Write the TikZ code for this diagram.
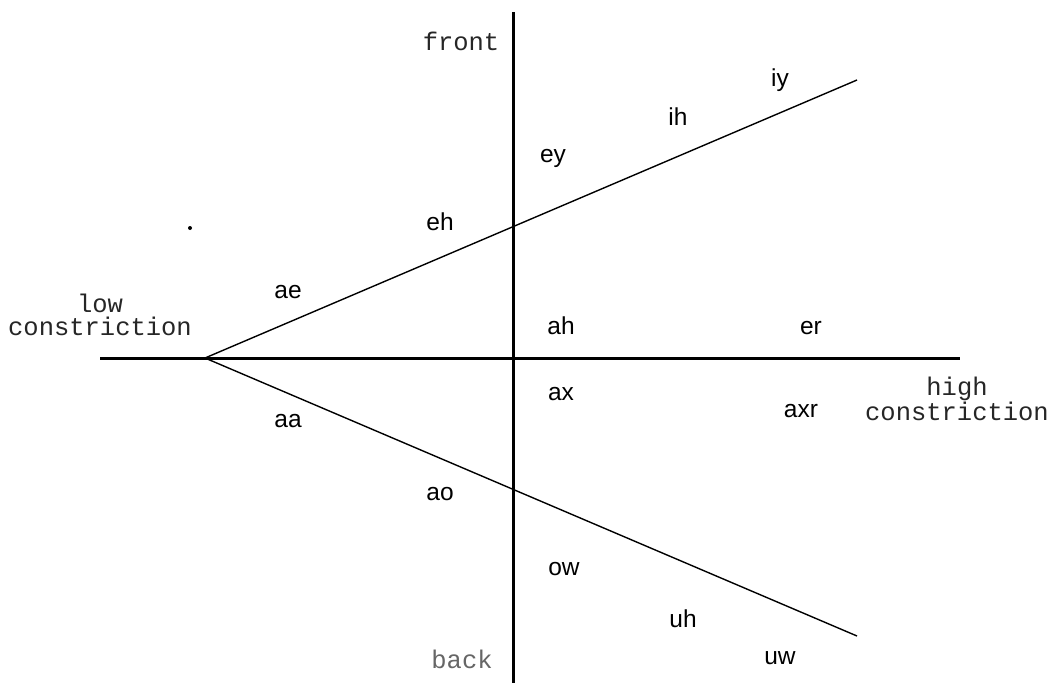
\documentclass[tikz,border=0pt]{standalone}
\usepackage{fontspec}
\setmainfont{Liberation Sans}
\newfontfamily\monofont{Liberation Mono}
\begin{document}
\begin{tikzpicture}[x=1pt,y=-1pt,
  axis/.style={line width=3pt},
  branch/.style={line width=1.4pt},
  vow/.style={anchor=base,inner sep=0pt,font=\fontsize{24.5}{28}\selectfont},
  mlab/.style={anchor=base,inner sep=0pt,align=center,text=black!85,font=\monofont\fontsize{25.5}{23}\selectfont}]
\useasboundingbox (0,0) rectangle (1054,683);
\coordinate (vt) at (513,12);
\coordinate (vb) at (513,683);
\coordinate (hl) at (100,358);
\coordinate (hr) at (960,358);
\coordinate (apex) at (205,358);
\coordinate (up) at (857,80);
\coordinate (lo) at (857,636);
\draw[axis] (vt) -- (vb);
\draw[axis] (hl) -- (hr);
\draw[branch] (apex) -- (up);
\draw[branch] (apex) -- (lo);
\fill (190,228) circle (2pt);
\node[mlab] (front) at (461,50) {front};
\node[mlab,text=black!60] (back) at (462,668) {back};
\node[mlab] (low) at (100,335) {low\\constriction};
\node[mlab] (high) at (957,420) {high\\constriction};
\node[vow] (iy) at (780,86) {iy};
\node[vow] (ih) at (678,125) {ih};
\node[vow] (ey) at (553,162) {ey};
\node[vow] (eh) at (440,230) {eh};
\node[vow] (ae) at (288,298) {ae};
\node[vow] (ah) at (561,334) {ah};
\node[vow] (er) at (811,334) {er};
\node[vow] (ax) at (561,400) {ax};
\node[vow] (axr) at (801,417) {axr};
\node[vow] (aa) at (288,427) {aa};
\node[vow] (ao) at (440,500) {ao};
\node[vow] (ow) at (564,575) {ow};
\node[vow] (uh) at (683,627) {uh};
\node[vow] (uw) at (780,664) {uw};
\end{tikzpicture}
\end{document}
